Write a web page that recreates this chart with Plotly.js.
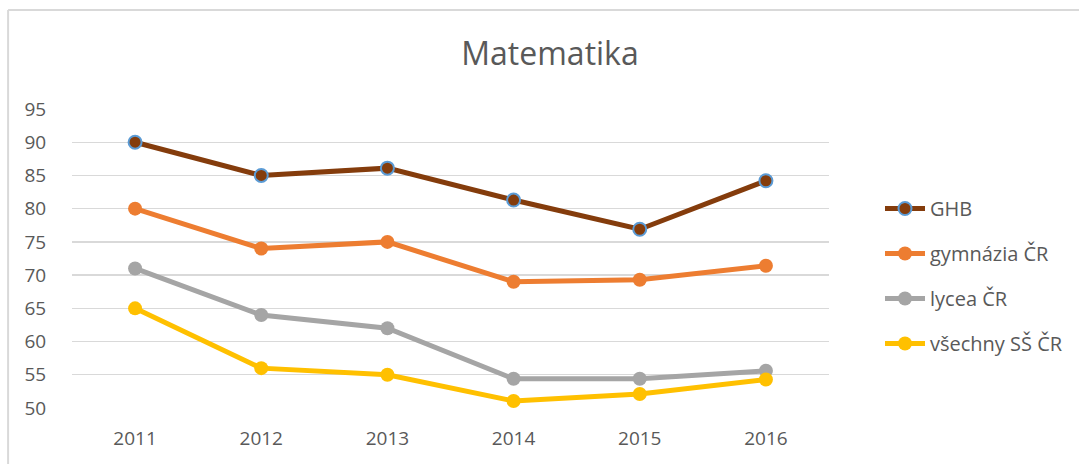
<!DOCTYPE html>
<html>
<head>
<meta charset="utf-8">
<script src="https://cdn.plot.ly/plotly-3.0.1.min.js"></script>
<style>html,body{margin:0;padding:0;background:#fff;}#chart{width:1079px;height:464px;}</style>
</head>
<body>
<div id="chart"></div>
<script>
const years = ["2011", "2012", "2013", "2014", "2015", "2016"];
const seriesNames = ["GHB", "gymnázia ČR", "lycea ČR", "všechny SŠ ČR"];
const ghb = [90, 85, 86.1, 81.3, 76.9, 84.2];
const gymnazia = [80, 74, 75, 69, 69.3, 71.4];
const lycea = [71, 64, 62, 54.4, 54.4, 55.6];
const vsechny = [65, 56, 55, 51.05, 52.1, 54.3];
const yTicks = [50, 55, 60, 65, 70, 75, 80, 85, 90, 95];

const colors = ["#843C0C", "#ED7D31", "#A5A5A5", "#FFC000"];
const values = [ghb, gymnazia, lycea, vsechny];

const traces = values.map((v, i) => ({
  x: years,
  y: v,
  name: seriesNames[i],
  type: "scatter",
  mode: "lines+markers",
  line: {color: colors[i], width: 5},
  marker: {
    color: colors[i],
    size: i === 0 ? 13 : 14,
    line: i === 0 ? {color: "#5B9BD5", width: 2} : {width: 0}
  },
  cliponaxis: false,
  legendgroup: "g" + i
}));

const L = 72, R = 830, T = 109, B = 408;
const W = R - L, H = B - T;
const px = x => (x - L) / W;
const py = y => (B - y) / H;

const layout = {
  width: 1079,
  height: 464,
  margin: {l: L, r: 1079 - R, t: T, b: 464 - B},
  paper_bgcolor: "#ffffff",
  plot_bgcolor: "#ffffff",
  font: {family: "Open Sans, sans-serif", color: "#595959", size: 19},
  title: {
    text: "Matematika",
    font: {family: "Open Sans, sans-serif", size: 32, color: "#595959"},
    xref: "container", yref: "container",
    x: 550 / 1079, xanchor: "center",
    y: 1 - 54 / 464, yanchor: "middle"
  },
  xaxis: {
    type: "category",
    range: [-0.5, 5.5],
    showgrid: false,
    zeroline: false,
    showline: false,
    ticks: "outside",
    ticklen: 13,
    tickcolor: "rgba(0,0,0,0)",
    tickfont: {size: 19, color: "#595959"}
  },
  yaxis: {
    range: [50, 95],
    tickvals: yTicks,
    showgrid: true,
    gridcolor: "#D9D9D9",
    gridwidth: 1.3,
    zeroline: false,
    showline: false,
    ticks: "outside",
    ticklen: 21,
    tickcolor: "rgba(0,0,0,0)",
    tickfont: {size: 19, color: "#595959"},
    fixedrange: true
  },
  legend: {
    x: px(880), xanchor: "left",
    y: py(189), yanchor: "top",
    font: {size: 20, color: "#595959"},
    tracegroupgap: 16,
    itemwidth: 40,
    bgcolor: "rgba(0,0,0,0)"
  },
  shapes: [
    {type: "line", xref: "paper", yref: "paper", x0: px(8), x1: px(8), y0: py(10), y1: py(470),
     line: {color: "#D9D9D9", width: 2}},
    {type: "line", xref: "paper", yref: "paper", x0: px(8), x1: px(1085), y0: py(10), y1: py(10),
     line: {color: "#D9D9D9", width: 2}}
  ],
  showlegend: true
};

Plotly.newPlot("chart", traces, layout, {displayModeBar: false, staticPlot: true});
</script>
</body>
</html>
